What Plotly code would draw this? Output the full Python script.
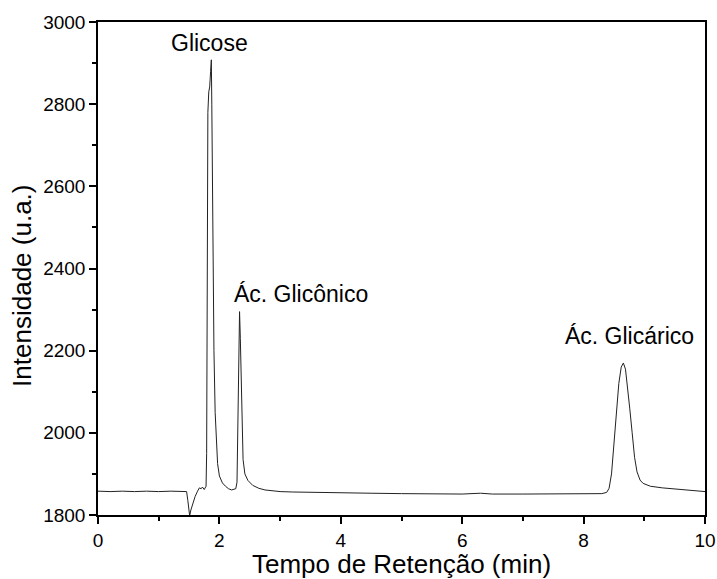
import plotly.graph_objects as go

# Retention time (min) and intensity (a.u.)
time = [0.0, 0.2, 0.4, 0.6, 0.8, 1.0, 1.2, 1.4, 1.46, 1.48, 1.50, 1.51, 1.53, 1.56, 1.60,
        1.64, 1.67, 1.70, 1.72, 1.75, 1.78, 1.79, 1.795, 1.80, 1.81, 1.825, 1.84, 1.855,
        1.867, 1.875, 1.885, 1.895, 1.91, 1.93, 1.95, 1.97, 2.00, 2.05, 2.10, 2.15, 2.20,
        2.25, 2.27, 2.29, 2.30, 2.31, 2.32, 2.332, 2.345, 2.36, 2.375, 2.39, 2.42, 2.47,
        2.55, 2.65, 2.75, 3.0, 3.2, 3.5, 4.0, 4.5, 5.0, 5.5, 6.0, 6.3, 6.5, 7.0, 7.5, 8.0,
        8.3, 8.38, 8.42, 8.46, 8.50, 8.54, 8.58, 8.62, 8.655, 8.69, 8.72, 8.76, 8.80, 8.84,
        8.88, 8.93, 8.98, 9.1, 9.3, 9.6, 10.0]
intensity = [1858, 1857, 1858, 1857, 1858, 1857, 1858, 1857, 1857, 1835, 1805, 1798, 1812,
             1828, 1845, 1858, 1866, 1864, 1868, 1862, 1870, 1950, 2200, 2500, 2780, 2830,
             2842, 2880, 2908, 2800, 2600, 2400, 2200, 2050, 1970, 1925, 1895, 1878, 1870,
             1864, 1861, 1863, 1864, 1880, 1990, 2120, 2240, 2295, 2230, 2100, 1990, 1935,
             1900, 1884, 1872, 1865, 1861, 1857, 1856, 1855, 1854, 1853, 1852, 1852, 1851,
             1853, 1851, 1851, 1851, 1851, 1852, 1855, 1865, 1900, 1970, 2050, 2120, 2160,
             2170, 2155, 2120, 2060, 2000, 1940, 1905, 1885, 1877, 1870, 1866, 1862, 1857]

peak_labels = ["Glicose", "Ác. Glicônico", "Ác. Glicárico"]
label_x = [1.84, 3.35, 8.75]
label_y = [2949, 2338, 2236]

FONT = "Liberation Sans, Arial, sans-serif"

fig = go.Figure()
fig.add_trace(go.Scatter(x=time, y=intensity, mode="lines",
                         line=dict(color="#222222", width=1), showlegend=False,
                         hoverinfo="skip"))

for txt, x, y in zip(peak_labels, label_x, label_y):
    fig.add_annotation(x=x, y=y, text=txt, showarrow=False, xref="x", yref="y",
                       font=dict(family=FONT, size=23, color="black"))

# y-axis title (placed as a rotated annotation to match its position)
fig.add_annotation(x=-0.125, y=0.465, xref="paper", yref="paper", text="Intensidade (u.a.)",
                   textangle=-90, showarrow=False, xanchor="center", yanchor="middle",
                   font=dict(family=FONT, size=26, color="black"))

axis_common = dict(showline=True, linecolor="black", linewidth=1.5, mirror=True,
                   ticks="outside", ticklen=7, tickwidth=1.5, tickcolor="black",
                   showgrid=False, zeroline=False, automargin=False,
                   tickfont=dict(family=FONT, size=19, color="black"))

fig.update_xaxes(range=[0, 10], dtick=2, tick0=0,
                 minor=dict(dtick=1, ticklen=4, ticks="outside", tickcolor="black", tickwidth=1.5),
                 title=dict(text="Tempo de Retenção (min)", standoff=8,
                            font=dict(family=FONT, size=26, color="black")),
                 **axis_common)
fig.update_yaxes(range=[1800, 3000], dtick=200, tick0=1800,
                 minor=dict(dtick=100, ticklen=4, ticks="outside", tickcolor="black", tickwidth=1.5),
                 **axis_common)

fig.update_layout(width=717, height=579, margin=dict(l=98, r=12, t=22, b=64),
                  plot_bgcolor="white", paper_bgcolor="white")

fig.write_html("out.html")
